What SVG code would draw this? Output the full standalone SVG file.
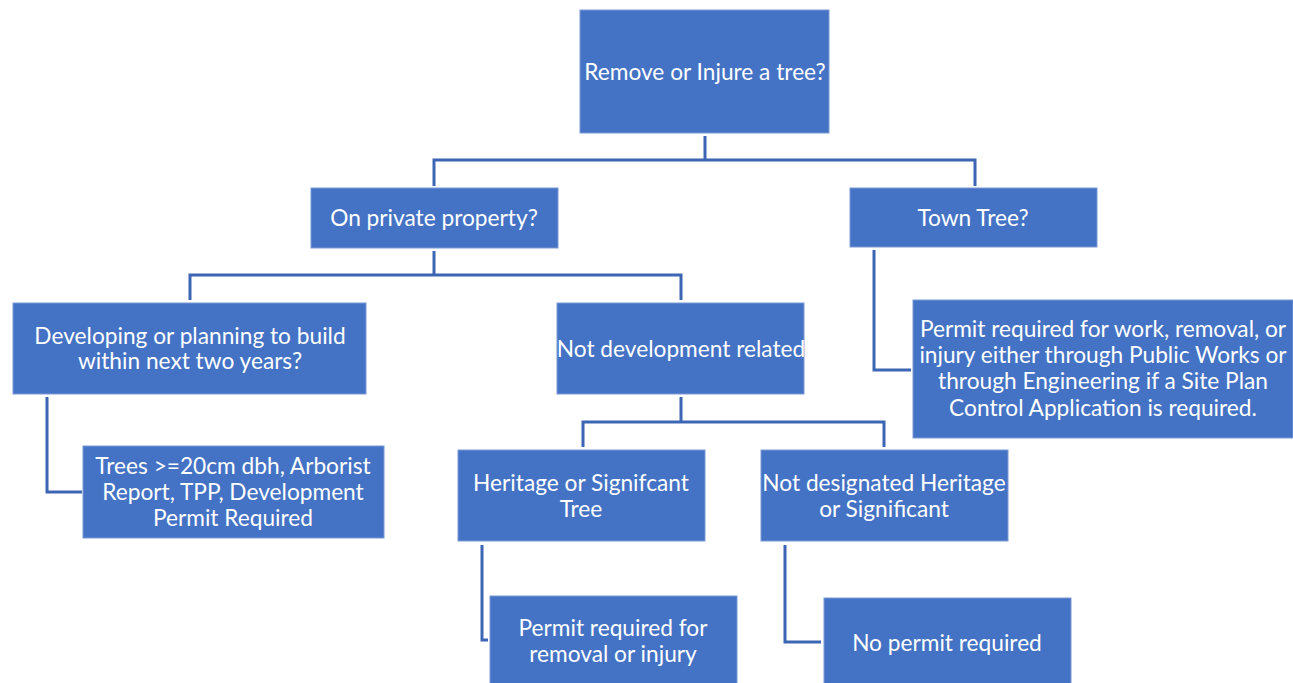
<svg xmlns="http://www.w3.org/2000/svg" width="1293" height="683" viewBox="0 0 1293 683">
<style>
.box{fill:#4472C4;stroke:#7b9ad6;stroke-width:1}
.t{font-family:Lato,"Liberation Sans",sans-serif;font-size:22.7px;fill:#ffffff;text-anchor:middle}
.c{fill:none;stroke:#3c66b4;stroke-width:3}
</style>
<rect width="1293" height="683" fill="#ffffff"/>
<g id="connectors">
<path class="c" d="M705,136 V160 M434,186 V160 H975 V186"/>
<path class="c" d="M434,251 V275 M190,300 V275 H681 V300"/>
<path class="c" d="M874,250 V370 H911"/>
<path class="c" d="M47,397 V492 H82"/>
<path class="c" d="M681,397 V422 M583,447 V422 H884 V447"/>
<path class="c" d="M482,545 V640 H488"/>
<path class="c" d="M785,545 V642 H821"/>
</g>
<g id="root"><rect class="box" x="580" y="10" width="249" height="123"/><text class="t" x="705" y="80">Remove or Injure a tree?</text></g>
<g id="private"><rect class="box" x="311" y="188" width="247" height="60"/><text class="t" x="434" y="226">On private property?</text></g>
<g id="town"><rect class="box" x="850" y="188" width="247" height="59"/><text class="t" x="973" y="226">Town Tree?</text></g>
<g id="developing"><rect class="box" x="13" y="303" width="353" height="91"/><text class="t" x="190" y="344">Developing or planning to build</text><text class="t" x="190" y="369">within next two years?</text></g>
<g id="notdev"><rect class="box" x="557" y="303" width="247" height="91"/><text class="t" x="681" y="357">Not development related</text></g>
<g id="townpermit"><rect class="box" x="913" y="300" width="380" height="138"/><text class="t" x="1103" y="337">Permit required for work, removal, or</text><text class="t" x="1103" y="363">injury either through Public Works or</text><text class="t" x="1103" y="389">through Engineering if a Site Plan</text><text class="t" x="1103" y="416">Control Application is required.</text></g>
<g id="trees"><rect class="box" x="83" y="446" width="301" height="92"/><text class="t" x="233" y="474">Trees &gt;=20cm dbh, Arborist</text><text class="t" x="233" y="500">Report, TPP, Development</text><text class="t" x="233" y="526">Permit Required</text></g>
<g id="heritage"><rect class="box" x="458" y="450" width="247" height="91"/><text class="t" x="581" y="491">Heritage or Signifcant</text><text class="t" x="581" y="517">Tree</text></g>
<g id="notdesignated"><rect class="box" x="761" y="450" width="247" height="91"/><text class="t" x="884" y="491">Not designated Heritage</text><text class="t" x="884" y="517">or Significant</text></g>
<g id="permit"><rect class="box" x="490" y="596" width="247" height="90"/><text class="t" x="613" y="636">Permit required for</text><text class="t" x="613" y="662">removal or injury</text></g>
<g id="nopermit"><rect class="box" x="824" y="598" width="247" height="88"/><text class="t" x="947" y="651">No permit required</text></g>
</svg>
